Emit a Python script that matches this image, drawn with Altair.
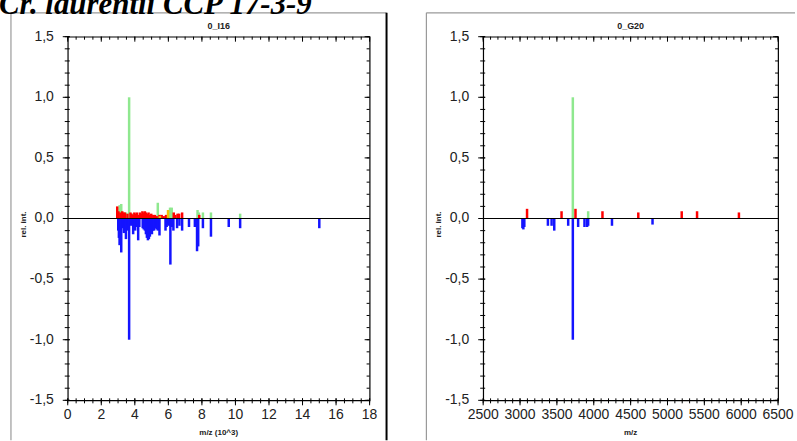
import altair as alt
import pandas as pd

# ---------------- spectrum 0_I16 (m/z in thousands) ----------------
i16_green_mz = [3.09, 3.19, 3.47, 3.66, 3.84, 4.22, 5.37, 6.10, 6.20, 7.74, 7.82, 8.06, 8.54, 10.28]
i16_green_int = [0.11, 0.12, 0.05, 1.00, 0.04, 0.03, 0.13, 0.09, 0.09, 0.07, 0.05, 0.05, 0.05, 0.04]

i16_red_mz = [2.95, 3.02, 3.14, 3.25, 3.32, 3.40, 3.56, 3.74, 3.80, 3.90, 3.97, 4.05, 4.12,
              4.20, 4.30, 4.38, 4.45, 4.52, 4.60, 4.66, 4.74, 4.82, 4.90, 4.98, 5.10, 5.20,
              5.30, 5.47, 5.60, 5.72, 5.86, 6.32, 6.42, 6.55, 6.64, 6.82, 7.84]
i16_red_int = [0.10, 0.06, 0.05, 0.06, 0.05, 0.05, 0.04, 0.05, 0.04, 0.03, 0.05, 0.04, 0.05,
               0.03, 0.05, 0.04, 0.06, 0.05, 0.06, 0.05, 0.04, 0.05, 0.03, 0.04, 0.03, 0.03,
               0.02, 0.03, 0.03, 0.02, 0.03, 0.05, 0.03, 0.04, 0.04, 0.05, 0.03]

i16_yellow_mz = [5.50, 5.98]
i16_yellow_int = [0.02, 0.07]

i16_blue_mz = [3.01, 3.05, 3.09, 3.14, 3.19, 3.27, 3.35, 3.42, 3.47, 3.55, 3.66, 3.78, 3.90,
               3.96, 4.02, 4.10, 4.20, 4.27, 4.47, 4.53, 4.60, 4.66, 4.72, 4.78, 4.84, 4.90,
               4.96, 5.02, 5.08, 5.15, 5.22, 5.30, 5.37, 5.47, 5.83, 5.90, 5.96, 6.05, 6.12,
               6.22, 6.30, 6.52, 6.66, 6.82, 7.23, 7.58, 7.66, 7.71, 7.78, 8.06, 8.54, 9.60,
               10.28, 15.00]
i16_blue_int = [-0.10, -0.16, -0.22, -0.12, -0.28, -0.08, -0.12, -0.06, -0.17, -0.10, -1.00,
                -0.06, -0.13, -0.08, -0.10, -0.07, -0.18, -0.07, -0.08, -0.09, -0.10, -0.13,
                -0.16, -0.18, -0.17, -0.15, -0.12, -0.13, -0.10, -0.10, -0.08, -0.09, -0.10,
                -0.14, -0.10, -0.07, -0.05, -0.06, -0.38, -0.07, -0.10, -0.08, -0.06, -0.10,
                -0.07, -0.07, -0.06, -0.27, -0.23, -0.08, -0.15, -0.07, -0.08, -0.08]

# ---------------- spectrum 0_G20 (m/z) ----------------
g20_green_mz = [3716, 3924]
g20_green_int = [1.00, 0.06]

g20_red_mz = [3095, 3563, 3752, 4118, 4604, 5193, 5401, 5969]
g20_red_int = [0.08, 0.06, 0.08, 0.06, 0.05, 0.06, 0.06, 0.05]

g20_yellow_mz = []
g20_yellow_int = []

g20_blue_mz = [3032, 3045, 3058, 3378, 3428, 3464, 3653, 3716, 3788, 3874, 3910, 3924, 4247, 4797]
g20_blue_int = [-0.08, -0.09, -0.07, -0.06, -0.06, -0.10, -0.06, -1.00, -0.07, -0.07, -0.07,
                -0.06, -0.06, -0.05]

# ---------------- tick positions and labels ----------------
y_major = [-1.5, -1.0, -0.5, 0.0, 0.5, 1.0, 1.5]
y_major_text = ["-1,5", "-1,0", "-0,5", "0,0", "0,5", "1,0", "1,5"]
y_minor = [round(-1.5 + 0.1 * k, 1) for k in range(31)]

i16_x_major = [0, 2, 4, 6, 8, 10, 12, 14, 16, 18]
i16_x_minor = [0.5 * k for k in range(37)]

g20_x_major = [2500, 3000, 3500, 4000, 4500, 5000, 5500, 6000, 6500]
g20_x_minor = [2500 + 100 * k for k in range(41)]

kinds = ["green", "red", "yellow", "blue"]
kind_colors = ["#8fe88f", "#ff0000", "#f2c200", "#1414ff"]

LABEL_FONT = "Liberation Sans"
INK = "#222222"
H = 365

one = alt.Data(values=[{}])


def peaks(mz_g, in_g, mz_r, in_r, mz_y, in_y, mz_b, in_b):
    parts = []
    for kind, mz, inten in (("green", mz_g, in_g), ("red", mz_r, in_r),
                            ("yellow", mz_y, in_y), ("blue", mz_b, in_b)):
        parts.append(pd.DataFrame({"mz": mz, "inten": inten, "kind": kind}))
    df = pd.concat(parts, ignore_index=True)
    df["order"] = range(len(df))
    return df


def ticks(values, channel, scale, a, b):
    d = pd.DataFrame({"v": values})
    base = alt.Chart(d).mark_rule(color="black", strokeWidth=1)
    if channel == "y":
        return base.encode(y=alt.Y("v:Q", scale=scale, axis=None), x=alt.value(a), x2=alt.value(b))
    return base.encode(x=alt.X("v:Q", scale=scale, axis=None), y=alt.value(a), y2=alt.value(b))


def tick_labels(values, texts, channel, scale, pos, **kw):
    d = pd.DataFrame({"v": values, "t": texts})
    base = alt.Chart(d).mark_text(font=LABEL_FONT, fontSize=14, color=INK, **kw)
    if channel == "y":
        return base.encode(y=alt.Y("v:Q", scale=scale, axis=None), x=alt.value(pos), text="t:N")
    return base.encode(x=alt.X("v:Q", scale=scale, axis=None), y=alt.value(pos), text="t:N")


def border(x, y, x2=None, y2=None, color="#9a9a9a", width=1.2, opacity=1.0):
    enc = dict(x=alt.value(x), y=alt.value(y))
    if x2 is not None:
        enc["x2"] = alt.value(x2)
    if y2 is not None:
        enc["y2"] = alt.value(y2)
    return alt.Chart(one).mark_rule(color=color, strokeWidth=width, opacity=opacity).encode(**enc)


def label(text, x, y, size=8, **kw):
    return alt.Chart(one).mark_text(text=text, font=LABEL_FONT, fontSize=size, fontWeight="bold",
                                    color=INK, **kw).encode(x=alt.value(x), y=alt.value(y))


def spectrum(df, xdom, xmaj, xmin, xtitle, ptitle, w, extra):
    xs = alt.Scale(domain=xdom, nice=False, zero=False)
    ys = alt.Scale(domain=[-1.5, 1.5], nice=False, zero=False)

    bars = alt.Chart(df).mark_rule(strokeWidth=2.5).encode(
        x=alt.X("mz:Q", scale=xs, axis=None),
        x2=alt.X2("mz:Q"),
        y=alt.Y("inten:Q", scale=ys, axis=None),
        y2=alt.Y2Datum(0),
        color=alt.Color("kind:N", scale=alt.Scale(domain=kinds, range=kind_colors), legend=None),
        order=alt.Order("order:Q"),
    )

    zero = alt.Chart(df).mark_rule(color="black", strokeWidth=1.2).encode(
        y=alt.YDatum(0, scale=ys, axis=None)
    )

    tick_layers = [
        ticks(y_major, "y", ys, -5, 2), ticks(y_minor, "y", ys, -3, 2),
        ticks(y_major, "y", ys, w - 5, w), ticks(y_minor, "y", ys, w - 3, w),
        ticks(xmaj, "x", xs, H - 2, H + 5), ticks(xmin, "x", xs, H - 2, H + 3),
        ticks(xmaj, "x", xs, 0, 5), ticks(xmin, "x", xs, 0, 3),
    ]

    text_layers = [
        tick_labels(y_major, y_major_text, "y", ys, -14, align="right", baseline="middle"),
        tick_labels(xmaj, [str(v) for v in xmaj], "x", xs, H + 8, align="center", baseline="top"),
        label("rel. int.", -44, H / 2 + 6, angle=270, align="center", baseline="middle"),
        label(xtitle, w / 2, H + 33, align="center", baseline="middle"),
        label(ptitle, w / 2, -11, size=9, align="center", baseline="middle"),
    ]

    layers = [bars, zero] + tick_layers + text_layers + extra
    return alt.layer(*layers).properties(width=w, height=H)


heading = alt.Chart(one).mark_text(
    text="Cr. laurentii CCP 17-3-9", font="Liberation Serif", fontSize=31,
    fontWeight="bold", fontStyle="italic", align="left", baseline="alphabetic", color="black",
).encode(x=alt.value(-69), y=alt.value(-23))

# invisible corner that fixes where the canvas starts
anchor = border(-80, -80, y2=-79, color="white", width=0.5, opacity=0)

left = spectrum(
    peaks(i16_green_mz, i16_green_int, i16_red_mz, i16_red_int,
          i16_yellow_mz, i16_yellow_int, i16_blue_mz, i16_blue_int),
    [0, 18], i16_x_major, i16_x_minor, "m/z (10^3)", "0_I16", 303,
    [border(-57, -24, y2=405), border(-57, -24, x2=320),
     border(320, -24, y2=405, color="black", width=2), heading, anchor],
)

right = spectrum(
    peaks(g20_green_mz, g20_green_int, g20_red_mz, g20_red_int,
          g20_yellow_mz, g20_yellow_int, g20_blue_mz, g20_blue_int),
    [2500, 6500], g20_x_major, g20_x_minor, "m/z", "0_G20", 296,
    [border(-57, -24, y2=405), border(-57, -24, x2=313)],
)

chart = alt.hconcat(left, right, spacing=114, bounds="flush").configure(
    padding={"left": -13, "top": -45, "right": 0, "bottom": 0},
    background="white",
).configure_view(stroke="black", strokeWidth=1.2)

chart.save("out.html", embed_options={"renderer": "svg", "actions": False})
